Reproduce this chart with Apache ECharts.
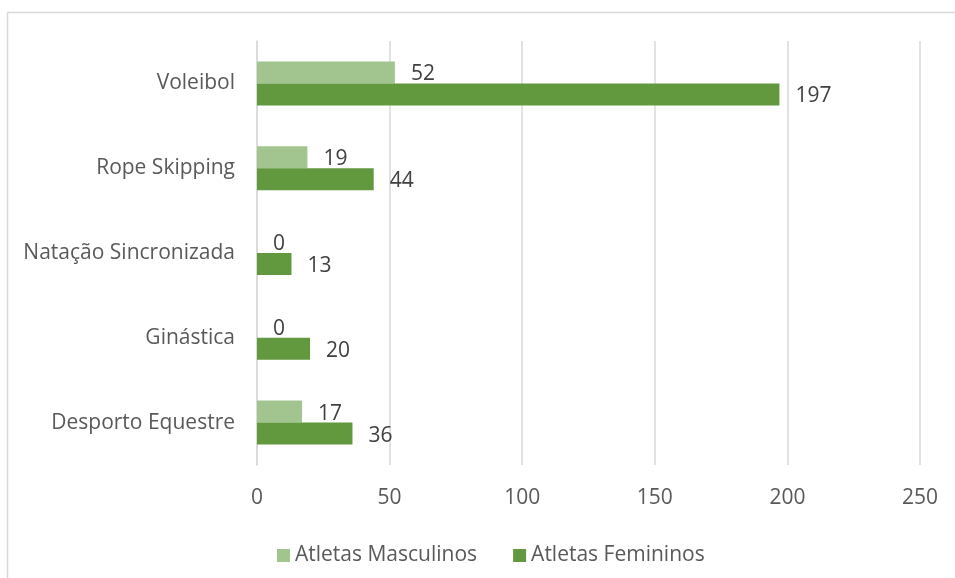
<!DOCTYPE html>
<html>
<head>
<meta charset="utf-8">
<script src="https://cdn.jsdelivr.net/npm/echarts@6/dist/echarts.min.js"></script>
<style>html,body{margin:0;padding:0;background:#fff}#c{width:955px;height:578px}</style>
</head>
<body>
<div id="c"></div>
<script>
const categories = ['Desporto Equestre', 'Ginástica', 'Natação Sincronizada', 'Rope Skipping', 'Voleibol'];
const masculinos = [17, 0, 0, 19, 52];
const femininos = [36, 20, 13, 44, 197];
const xTicks = [0, 50, 100, 150, 200, 250];

const FONT = '"Open Sans", "Liberation Sans", sans-serif';
const FS = 21;
const chart = echarts.init(document.getElementById('c'), null, {renderer: 'canvas'});
const labelStyle = {show: true, position: 'right', distance: 16, offset: [0, 2], color: '#404040', fontSize: FS, fontFamily: FONT};
chart.setOption({
  animation: false,
  graphic: [{type: 'rect', shape: {x: 7.5, y: 12.5, width: 960, height: 580}, style: {fill: 'none', stroke: '#d9d9d9', lineWidth: 1.5}, silent: true}],
  grid: {left: 257, right: 35, top: 41, bottom: 113, containLabel: false},
  xAxis: {
    type: 'value', min: xTicks[0], max: xTicks[xTicks.length - 1], interval: 50,
    axisLine: {show: false}, axisTick: {show: false},
    splitLine: {lineStyle: {color: '#d9d9d9', width: 1.5}},
    axisLabel: {color: '#595959', fontSize: FS, fontFamily: FONT, margin: 23}
  },
  yAxis: {
    type: 'category', data: categories,
    axisLine: {show: true, lineStyle: {color: '#d9d9d9', width: 1.5}},
    axisTick: {show: false},
    axisLabel: {color: '#595959', fontSize: FS, fontFamily: FONT, margin: 22, padding: [2, 0, 0, 0]}
  },
  legend: {
    bottom: 12, left: 277, padding: 0, itemWidth: 13, itemHeight: 13, itemGap: 36,
    icon: 'rect', data: ['Atletas Masculinos', 'Atletas Femininos'],
    textStyle: {color: '#595959', fontSize: FS, fontFamily: FONT}
  },
  series: [
    {name: 'Atletas Masculinos', type: 'bar', data: masculinos, barWidth: 22, barGap: '0%',
     itemStyle: {color: '#a2c58f'}, label: labelStyle},
    {name: 'Atletas Femininos', type: 'bar', data: femininos, barWidth: 22, barGap: '0%',
     itemStyle: {color: '#62993e'}, label: labelStyle}
  ]
});
</script>
</body>
</html>
